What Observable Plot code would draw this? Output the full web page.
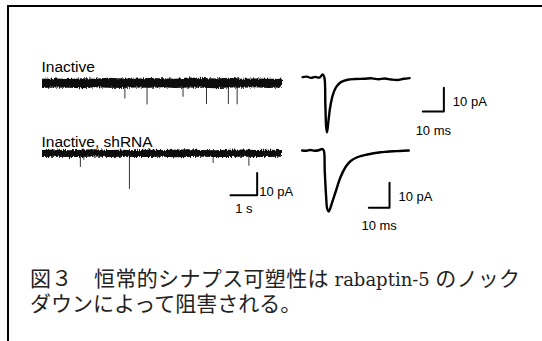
<!DOCTYPE html>
<html><head><meta charset="utf-8">
<script src="https://cdn.jsdelivr.net/npm/d3@7"></script>
<script src="https://cdn.jsdelivr.net/npm/@observablehq/plot@0.6"></script>
<style>
html,body{margin:0;padding:0;background:#fff;}
#fig{position:relative;width:542px;height:341px;overflow:hidden;background:#fff;font-family:"Liberation Sans",Arial,sans-serif;}
#frame{position:absolute;left:7px;top:5px;width:540px;height:340px;border-left:2px solid #000;border-top:2px solid #000;}
.title{position:absolute;font-size:15.5px;color:#000;white-space:nowrap;line-height:1;}
#caption{position:absolute;left:30px;top:267px;width:490px;font-family:"Liberation Serif","Noto Sans CJK JP",serif;font-size:21px;line-height:24px;color:#222;}
#caption .l1{text-align:justify;text-align-last:justify;text-justify:inter-character;white-space:nowrap;}
#caption .l2{white-space:nowrap;}
#caption .lat{font-family:"DejaVu Serif",serif;font-size:18px;}
</style></head><body>
<div id="fig"><div id="frame"></div></div>
<script>
// ---------- DATA ----------
const traceNames = ["Inactive", "Inactive, shRNA"];
// spontaneous recordings: noise envelope (pA) sampled every 0.5 s
const envTime = [0,0.5,1,1.5,2,2.5,3,3.5,4,4.5,5,5.5,6,6.5,7,7.5,8,8.5,9];
const envUpperInactive = [1.9,2.1,1.8,2.2,2.0,2.4,2.1,1.9,2.3,2.2,2.0,2.5,2.3,2.1,2.4,2.0,2.1,1.9,2.0];
const envLowerInactive = [-2.2,-2.0,-2.1,-2.3,-1.9,-2.1,-2.2,-2.0,-2.1,-1.9,-2.2,-2.0,-2.1,-2.3,-2.0,-2.1,-1.9,-2.2,-2.0];
const envUpperShRNA = [1.5,1.7,1.4,1.6,1.8,1.5,1.6,1.4,1.7,1.5,1.6,1.8,1.5,1.4,1.6,1.7,1.5,1.6,1.5];
const envLowerShRNA = [-1.6,-1.5,-1.7,-1.6,-1.4,-1.6,-1.5,-1.7,-1.6,-1.5,-1.8,-1.6,-1.5,-1.7,-1.6,-1.5,-1.7,-1.6,-1.5];
// spontaneous events (time s, amplitude pA)
const eventTimeInactive = [3.09, 3.92, 5.27, 6.15, 6.97, 7.30];
const eventAmpInactive  = [-7.0, -9.7, -6.2, -9.5, -9.5, -9.6];
const eventTimeShRNA = [1.42, 1.55, 3.26, 6.40, 7.74];
const eventAmpShRNA  = [-6.1, -2.9, -16.0, -4.3, -5.6];
// averaged EPSCs (time ms, current pA)
const avgTimeInactive = [0,2,4,6,8,9.5,10.3,10.8,11.2,11.6,12.2,13.1,14.3,15.9,18.2,21.4,25,29.3,33,36,39,42,45,48,50.8];
const avgCurInactive  = [0,0.2,-0.3,0.1,-0.2,1.1,0,-11.2,-21.1,-23.2,-19,-12.7,-7.7,-4.2,-2.1,-1.1,-0.8,-0.7,-0.5,-0.9,-0.6,-1.0,-1.2,-0.7,-0.4];
const avgTimeShRNA = [0,2,4,6,8,9.6,10.43,10.9,11.6,12.1,12.85,14.5,16.1,18.5,20.9,23.3,26.6,31.4,34.5,37.9,41,44,47,51.5];
const avgCurShRNA  = [0,-0.1,0.2,-0.1,0.1,0.6,0,-8,-18.7,-23.3,-24.4,-20.7,-16.7,-10.7,-6.7,-4.3,-2.7,-1.6,-1.1,-0.7,-0.5,-0.3,-0.2,0];
// scale bars
const barCurrent = 10;      // pA
const barTimeSpont = 1;     // s
const barTimeAvg = 10;      // ms
const barCurLabel = "10 pA", barTimeSpontLabel = "1 s", barTimeAvgLabel = "10 ms";
const captionLine1 = ["図３", "恒常的シナプス可塑性は", "rabaptin-5", "のノック"];
const captionLine2 = "ダウンによって阻害される。";

// ---------- BUILD ----------
const fig = document.getElementById("fig");
const defsHTML = `<svg width="0" height="0" style="position:absolute"><defs>
<filter id="rough" x="-2%" y="-100%" width="104%" height="300%">
<feTurbulence type="fractalNoise" baseFrequency="1.2 0.25" numOctaves="2" seed="4" result="n"/>
<feDisplacementMap in="SourceGraphic" in2="n" scale="4" xChannelSelector="B" yChannelSelector="G"/>
</filter></defs></svg>`;
fig.insertAdjacentHTML("beforeend", defsHTML);

function zip(t, a, b){ return t.map((d,i)=>({t:d, hi:a[i], lo:b[i]})); }
function pts(t, v){ return t.map((d,i)=>({t:d, v:v[i]})); }
function lBar(x0, y0, dx, dy){ return [{t:x0, v:y0},{t:x0+dx, v:y0},{t:x0+dx, v:y0+dy}]; }

function panel(box, xd, yd, marks){
  const svg = Plot.plot({width:box.w, height:box.h, margin:0, x:{domain:xd, axis:null}, y:{domain:yd, axis:null},
    style:{background:"transparent", overflow:"visible", fontFamily:"Liberation Sans, Arial, sans-serif"}, marks});
  svg.style.position="absolute"; svg.style.left=box.l+"px"; svg.style.top=box.t+"px"; svg.style.maxWidth="none";
  fig.append(svg);
  d3.select(svg).selectAll('g[aria-label="area"] path').attr("filter","url(#rough)");
  return svg;
}
function title(text, l, t){
  const d=document.createElement("div"); d.className="title"; d.textContent=text; d.style.left=l+"px"; d.style.top=t+"px"; fig.append(d);
}
const txt = {fontSize:13, fill:"#000"};

// Panel A: Inactive spontaneous
title(traceNames[0], 41.5, 58.6);
panel({l:42,t:72,w:240,h:42}, [0,9], [-14,5], [
  Plot.ruleX(pts(eventTimeInactive, eventAmpInactive), {x:"t", y1:0, y2:"v", stroke:"#333", strokeWidth:1}),
  Plot.areaY(zip(envTime, envUpperInactive, envLowerInactive), {x:"t", y1:"lo", y2:"hi", fill:"#0a0a0a"})
]);
// Panel B: Inactive, shRNA spontaneous + scale bar
title(traceNames[1], 41.5, 133.6);
const bA = {t:7.05, v:-18.6};
panel({l:42,t:140,w:240,h:80}, [0,9], [-30,6], [
  Plot.ruleX(pts(eventTimeShRNA, eventAmpShRNA), {x:"t", y1:0, y2:"v", stroke:"#333", strokeWidth:1}),
  Plot.areaY(zip(envTime, envUpperShRNA, envLowerShRNA), {x:"t", y1:"lo", y2:"hi", fill:"#0a0a0a"}),
  Plot.line(lBar(bA.t, bA.v, barTimeSpont, barCurrent), {x:"t", y:"v", stroke:"#000", strokeWidth:2}),
  Plot.text([barTimeSpontLabel], {x:bA.t+barTimeSpont/2, y:bA.v, dy:14, text:d=>d, textAnchor:"middle", ...txt}),
  Plot.text([barCurLabel], {x:bA.t+barTimeSpont, y:bA.v, dx:2, dy:-3, text:d=>d, textAnchor:"start", ...txt})
]);
// Panel C: Inactive averaged EPSC
const bC = {t:57.1, v:-14.5};
panel({l:300,t:60,w:200,h:82}, [-1,94], [-27.5,7], [
  Plot.line(pts(avgTimeInactive, avgCurInactive), {x:"t", y:"v", stroke:"#000", strokeWidth:2.4, curve:"catmull-rom"}),
  Plot.line(lBar(bC.t, bC.v, barTimeAvg, barCurrent), {x:"t", y:"v", stroke:"#000", strokeWidth:2}),
  Plot.text([barTimeAvgLabel], {x:bC.t+barTimeAvg/2, y:bC.v, dy:19, text:d=>d, textAnchor:"middle", ...txt}),
  Plot.text([barCurLabel], {x:bC.t+barTimeAvg, y:bC.v, dx:9, dy:-10, text:d=>d, textAnchor:"start", ...txt})
]);
// Panel D: shRNA averaged EPSC
const bD = {t:32.2, v:-22.9};
panel({l:300,t:135,w:200,h:105}, [-0.8,95.8], [-36,6], [
  Plot.line(pts(avgTimeShRNA, avgCurShRNA), {x:"t", y:"v", stroke:"#000", strokeWidth:2.4, curve:"catmull-rom"}),
  Plot.line(lBar(bD.t, bD.v, barTimeAvg, barCurrent), {x:"t", y:"v", stroke:"#000", strokeWidth:2}),
  Plot.text([barTimeAvgLabel], {x:bD.t+barTimeAvg/2, y:bD.v, dy:18, text:d=>d, textAnchor:"middle", ...txt}),
  Plot.text([barCurLabel], {x:bD.t+barTimeAvg, y:bD.v, dx:9, dy:-11, text:d=>d, textAnchor:"start", ...txt})
]);
// caption
const cap=document.createElement("div"); cap.id="caption";
cap.innerHTML = `<div class="l1">${captionLine1[0]}　${captionLine1[1]} <span class="lat">${captionLine1[2]}</span> ${captionLine1[3]}</div><div class="l2">${captionLine2}</div>`;
fig.append(cap);
</script></body></html>
